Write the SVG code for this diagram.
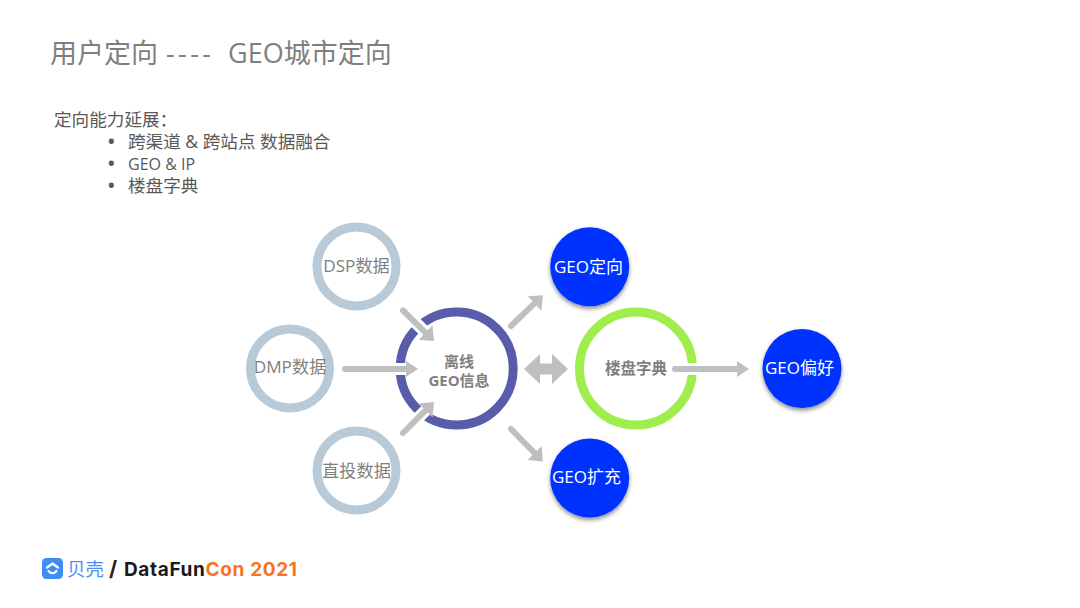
<svg xmlns="http://www.w3.org/2000/svg" width="1080" height="608" viewBox="0 0 1080 608">
<style>
text{font-family:"Open Sans","Noto Sans CJK SC","Noto Sans",sans-serif}
.title{font-size:27px;fill:#7f7f7f}
.body{font-size:17.6px;fill:#595959}
.ring{fill:#fff;stroke-width:9}
.grey{stroke:#b8cad7}
.lab{font-size:17.2px;fill:#7f7f7f;text-anchor:middle}
.bold{font-size:15px;font-weight:700;fill:#7f7f7f;text-anchor:middle}
.blue{fill:#0433ff;filter:url(#sh)}
.wl{font-size:17px;fill:#fff;text-anchor:middle}
.halo{stroke:#fff;stroke-width:12;fill:none}
.arr{stroke:#bfbfbf;stroke-width:6;stroke-linecap:round;fill:none;marker-end:url(#ah)}
.diag{marker-end:url(#ad)}
.logo{font-family:Inter,"Open Sans",sans-serif;font-size:19px;font-weight:700}
</style>
<defs>
<filter id="sh" x="-20%" y="-20%" width="140%" height="150%"><feDropShadow dx="0" dy="2.5" stdDeviation="2" flood-color="#000" flood-opacity="0.45"/></filter>
<marker id="ah" markerUnits="userSpaceOnUse" markerWidth="14" markerHeight="20" refX="4" refY="9" orient="auto"><polygon points="0,1 12,9 0,17" fill="#bfbfbf"/></marker>
<marker id="ad" markerUnits="userSpaceOnUse" markerWidth="14" markerHeight="24" refX="4" refY="11" orient="auto"><polygon points="0,1 12,11 0,21" fill="#bfbfbf"/></marker>
</defs>
<rect width="1080" height="608" fill="#fff"/>
<text class="title" x="50" y="63">用户定向<tspan x="166" letter-spacing="3.4">----</tspan><tspan x="228">GEO城市定向</tspan></text>
<g id="intro">
<text class="body" x="108" y="148" style="font-weight:700">•</text><text class="body" x="128" y="148">跨渠道 &amp; 跨站点 数据融合</text>
<text class="body" x="108" y="170" style="font-weight:700">•</text><text class="body" x="128" y="170" style="font-size:16px">GEO &amp; IP</text>
<text class="body" x="108" y="192" style="font-weight:700">•</text><text class="body" x="128" y="192">楼盘字典</text>
<text class="body" x="54" y="126">定向能力延展：</text>
</g>
<g id="node-dsp"><circle class="ring grey" cx="356.5" cy="266.5" r="39.5"/><text class="lab" x="356.5" y="272">DSP数据</text></g>
<g id="node-dmp"><circle class="ring grey" cx="290" cy="368.5" r="39.5"/><text class="lab" x="290" y="373">DMP数据</text></g>
<g id="node-direct"><circle class="ring grey" cx="356.5" cy="470.5" r="39.5"/><text class="lab" x="356.5" y="477">直投数据</text></g>
<g id="node-offline"><circle class="ring" stroke="#585cab" cx="456.7" cy="368.5" r="56.5"/><text class="bold" x="459" y="367">离线</text><text class="bold" x="459" y="386">GEO信息</text></g>
<g id="node-dict"><circle class="ring" stroke="#a0ee4d" cx="636" cy="368.5" r="56.5"/><text class="bold" x="636" y="374" style="font-size:15.5px">楼盘字典</text></g>
<g id="node-target"><circle class="blue" cx="589.7" cy="266.7" r="39.5"/><text class="wl" x="588.5" y="273">GEO定向</text></g>
<g id="node-expand"><circle class="blue" cx="589.7" cy="478" r="39.5"/><text class="wl" x="586.5" y="483">GEO扩充</text></g>
<g id="node-pref"><circle class="blue" cx="802" cy="368.5" r="39.5"/><text class="wl" x="799.5" y="374">GEO偏好</text></g>
<g id="connectors">
<line class="halo" x1="405" y1="312" x2="428" y2="335"/>
<line class="halo" x1="405" y1="431" x2="428" y2="408"/>
<line class="halo" x1="375" y1="369" x2="410" y2="369"/>
<line class="halo" x1="680" y1="369" x2="705" y2="369"/>
<line class="arr diag" x1="403" y1="310.5" x2="428.3" y2="335.3"/>
<line class="arr" x1="345" y1="369" x2="410" y2="369"/>
<line class="arr diag" x1="403" y1="433" x2="428.3" y2="407.7"/>
<line class="arr diag" x1="511" y1="326" x2="537.3" y2="300.7"/>
<line class="arr diag" x1="511" y1="429" x2="537.3" y2="455.8"/>
<line class="arr" x1="675" y1="369" x2="741" y2="369"/>
<polygon points="524,369 540,354 540,363.5 552,363.5 552,354 568,369 552,384 552,374.5 540,374.5 540,384" fill="#bfbfbf"/>
</g>
<g id="logo">
<rect x="42" y="558" width="21" height="21" rx="4.5" fill="#3f8cf5"/>
<path d="M47 567.5 L52.5 563.5 L58 567.5 M48.5 571 Q52.5 575.5 56.5 571" fill="none" stroke="#fff" stroke-width="2.2" stroke-linecap="round" stroke-linejoin="round"/>
<text x="67" y="576" style="font-size:18.5px;fill:#4a90f5">贝壳</text>
<text class="logo" x="109" y="576" fill="#222" style="font-size:21px">/</text>
<text class="logo" x="124" y="576" fill="#1a1a1a" textLength="173" lengthAdjust="spacing">DataFun<tspan fill="#f5761f">Con 2021</tspan></text>
</g>
</svg>
